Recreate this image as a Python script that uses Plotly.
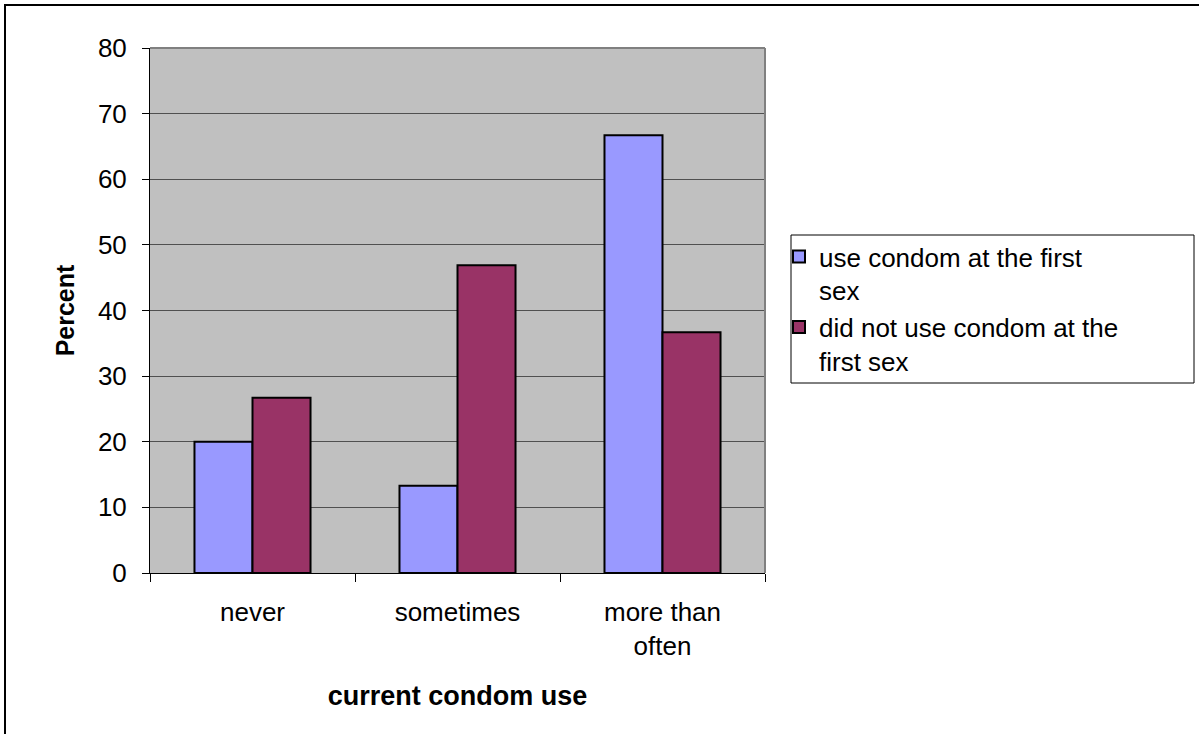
import plotly.graph_objects as go

categories = ["never", "sometimes", "more than<br>often"]
series_names = ["use condom at the first<br>sex", "did not use condom at the<br>first sex"]
used_first = [20.0, 13.3, 66.7]
not_used_first = [26.7, 46.9, 36.7]
y_ticks = [0, 10, 20, 30, 40, 50, 60, 70, 80]
colors = ["#9999FF", "#993366"]

W, H = 1199, 734
L, R, T, B = 150, 765, 48, 573  # plot area pixel box
pw, ph = R - L, B - T

def px(x):
    return (x - L) / pw

def py(y):
    return (B - y) / ph

FONT = "Liberation Sans, Arial, sans-serif"

fig = go.Figure()
for name, vals, c in zip(series_names, [used_first, not_used_first], colors):
    fig.add_trace(go.Bar(
        x=categories, y=vals, name=name,
        marker=dict(color=c, line=dict(color="black", width=2)),
    ))

fig.update_layout(
    width=W, height=H,
    margin=dict(l=L, r=W - R, t=T, b=H - B, pad=0),
    paper_bgcolor="white",
    plot_bgcolor="#C0C0C0",
    barmode="group",
    bargap=0.434,
    bargroupgap=0,
    font=dict(family=FONT, size=26, color="black"),
    showlegend=True,
    legend=dict(
        x=px(779), y=py(233), xanchor="left", yanchor="top",
        bgcolor="rgba(0,0,0,0)", borderwidth=0,
        font=dict(family=FONT, size=26, color="black"),
        tracegroupgap=4, itemwidth=30, valign="top",
    ),
    xaxis=dict(
        showline=True, linecolor="black", linewidth=1,
        ticks="outside", tickson="boundaries", ticklen=8, tickcolor="black",
        tickfont=dict(family=FONT, size=26),
        ticklabelstandoff=16,
        title=dict(text="<b>current condom use</b>", font=dict(family=FONT, size=27), standoff=26),
        showgrid=False,
    ),
    yaxis=dict(
        range=[0, 80], tickvals=y_ticks,
        showline=True, linecolor="black", linewidth=1,
        ticks="outside", ticklen=7, tickcolor="black",
        tickfont=dict(family=FONT, size=26),
        ticklabelstandoff=10,
        showgrid=True, gridcolor="#505050", gridwidth=1,
        zeroline=False,
        title=dict(text="<b>Percent</b>", font=dict(family=FONT, size=25), standoff=16),
    ),
    shapes=[
        # outer chart border
        dict(type="rect", xref="paper", yref="paper",
             x0=px(5), x1=px(1205), y0=py(740), y1=py(5),
             line=dict(color="black", width=2), fillcolor="rgba(0,0,0,0)", layer="below"),
        # plot area top / right border (gray)
        dict(type="line", xref="paper", yref="paper", x0=0, x1=1, y0=1, y1=1,
             line=dict(color="#808080", width=2)),
        dict(type="line", xref="paper", yref="paper", x0=1, x1=1, y0=0, y1=1,
             line=dict(color="#808080", width=2)),
        # legend box
        dict(type="rect", xref="paper", yref="paper",
             x0=px(791), x1=px(1194), y0=py(383), y1=py(235),
             line=dict(color="black", width=1), fillcolor="white", layer="below"),
    ],
)

fig.write_html("out.html")
